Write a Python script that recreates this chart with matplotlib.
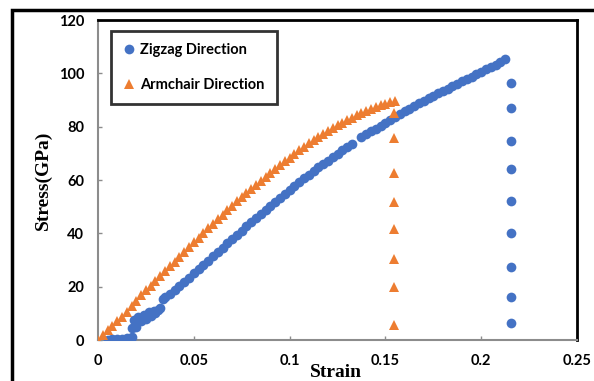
import matplotlib.pyplot as plt
from matplotlib.patches import Rectangle
from matplotlib.lines import Line2D

# --- data ---
zig_strain = [0.005, 0.0075, 0.01, 0.0125, 0.015, 0.0175, 0.018, 0.019, 0.02, 0.021,
              0.0225, 0.024, 0.025, 0.0265, 0.0275, 0.029, 0.03, 0.0315, 0.0325, 0.034,
              0.035, 0.0375, 0.04, 0.0425, 0.045, 0.0475, 0.05, 0.0525, 0.055, 0.0575,
              0.06, 0.0625, 0.065, 0.0675, 0.07, 0.0725, 0.075, 0.0775, 0.08, 0.0825,
              0.085, 0.0875, 0.09, 0.0925, 0.095, 0.0975, 0.1, 0.1025, 0.105, 0.1075,
              0.11, 0.1125, 0.115, 0.1175, 0.12, 0.1225, 0.125, 0.1275, 0.13, 0.1325,
              0.1375, 0.14, 0.1425, 0.145, 0.1475, 0.15, 0.1525, 0.155, 0.1575, 0.16,
              0.1625, 0.165, 0.1675, 0.17, 0.1725, 0.175, 0.1775, 0.18, 0.1825, 0.185,
              0.1875, 0.19, 0.1925, 0.195, 0.1975, 0.2, 0.2025, 0.205, 0.2075, 0.21,
              0.2125]
zig_stress = [0.0, 0.2, 0.3, 0.5, 0.8, 1.2, 4.5, 7.5, 5.0, 8.5,
              7.0, 9.5, 8.0, 10.5, 9.0, 11.0, 10.0, 11.2, 12.0, 15.5,
              16.3, 17.2, 18.6, 20.2, 21.8, 23.4, 25.0, 26.6, 28.2, 29.8,
              31.4, 33.0, 34.6, 36.2, 37.8, 39.4, 41.0, 42.6, 44.2, 45.8,
              47.4, 48.9, 50.4, 51.9, 53.4, 54.9, 56.4, 57.8, 59.2, 60.6,
              62.0, 63.4, 64.7, 66.0, 67.3, 68.6, 69.9, 71.2, 72.4, 73.6,
              76.0, 77.1, 78.2, 79.3, 80.4, 81.5, 82.6, 83.6, 84.6, 85.7,
              86.7, 87.7, 88.7, 89.7, 90.6, 91.6, 92.5, 93.4, 94.3, 95.2,
              96.1, 97.0, 97.9, 98.7, 99.6, 100.6, 101.5, 102.4, 103.3, 104.2,
              105.2]
zig_fail_strain = [0.2154] * 9
zig_fail_stress = [96.3, 87.1, 74.7, 64.0, 52.2, 40.2, 27.5, 16.2, 6.3]

arm_strain = [0.0, 0.0025, 0.005, 0.0075, 0.01, 0.0125, 0.015, 0.0175, 0.02, 0.0225,
              0.025, 0.0275, 0.03, 0.0325, 0.035, 0.0375, 0.04, 0.0425, 0.045, 0.0475,
              0.05, 0.0525, 0.055, 0.0575, 0.06, 0.0625, 0.065, 0.0675, 0.07, 0.0725,
              0.075, 0.0775, 0.08, 0.0825, 0.085, 0.0875, 0.09, 0.0925, 0.095, 0.0975,
              0.1, 0.1025, 0.105, 0.1075, 0.11, 0.1125, 0.115, 0.1175, 0.12, 0.1225,
              0.125, 0.1275, 0.13, 0.1325, 0.135, 0.1375, 0.14, 0.1425, 0.145, 0.1475,
              0.15, 0.1525, 0.155]
arm_stress = [0.0, 1.8, 3.6, 5.2, 7.0, 8.8, 10.6, 12.6, 14.8, 16.8,
              18.6, 20.4, 22.2, 24.0, 25.8, 27.6, 29.4, 31.2, 33.0, 34.8,
              36.6, 38.4, 40.1, 41.9, 43.6, 45.3, 47.0, 48.7, 50.4, 52.0,
              53.6, 55.2, 56.8, 58.3, 59.8, 61.3, 62.8, 64.2, 65.6, 67.0,
              68.4, 69.8, 71.1, 72.4, 73.7, 74.9, 76.1, 77.3, 78.4, 79.5,
              80.5, 81.5, 82.5, 83.4, 84.3, 85.1, 85.9, 86.6, 87.3, 88.0,
              88.6, 89.2, 89.7]
arm_fail_strain = [0.1547] * 8
arm_fail_stress = [85.0, 75.6, 62.5, 51.6, 41.5, 30.5, 19.7, 5.7]

x_ticks = [0, 0.05, 0.1, 0.15, 0.2, 0.25]
x_labels = ['0', '0.05', '0.1', '0.15', '0.2', '0.25']
y_ticks = [0, 20, 40, 60, 80, 100, 120]

BLUE = '#4472C4'
ORANGE = '#ED7D31'
GREY = '#8c8c8c'

fig = plt.figure(figsize=(5.94, 3.81), dpi=100)
ax = fig.add_axes([98 / 594, 1 - 340 / 381, 479 / 594, 320 / 381])

ax.plot(zig_strain + zig_fail_strain, zig_stress + zig_fail_stress, 'o',
        color=BLUE, ms=7, mew=0, zorder=3)
ax.plot(arm_strain + arm_fail_strain, arm_stress + arm_fail_stress, '^',
        color=ORANGE, ms=7.5, mew=0, zorder=4)

ax.set_xlim(0, 0.25)
ax.set_ylim(0, 120)
ax.set_xticks(x_ticks)
ax.set_xticklabels(x_labels)
ax.set_yticks(y_ticks)
ax.tick_params(direction='in', length=3, width=1, color=GREY, pad=10)
for lab in ax.get_xticklabels() + ax.get_yticklabels():
    lab.set_fontfamily('Lato')
    lab.set_fontweight('bold')
    lab.set_fontsize(10.5)

for side in ('left', 'bottom'):
    ax.spines[side].set_color(GREY)
    ax.spines[side].set_linewidth(1.5)
for side in ('top', 'right'):
    ax.spines[side].set_color('black')
    ax.spines[side].set_linewidth(2)

fig.text(336 / 594, 4 / 381, 'Strain', family='Liberation Serif', weight='bold',
         fontsize=14, ha='center', va='baseline')
fig.text(43 / 594, 1 - 180 / 381, 'Stress(GPa)', family='Liberation Serif',
         weight='bold', fontsize=14, ha='center', va='center', rotation=90)

handles = [Line2D([], [], ls='none', marker='o', color=BLUE, ms=7, mew=0),
           Line2D([], [], ls='none', marker='^', color=ORANGE, ms=7.5, mew=0)]
leg = ax.legend(handles, ['Zigzag Direction', 'Armchair Direction'],
                loc='upper left', bbox_to_anchor=(0.027, 0.966), borderaxespad=0,
                prop={'family': 'Lato', 'weight': 'bold', 'size': 10.5},
                frameon=True, fancybox=False, borderpad=0.85, labelspacing=1.4,
                handlelength=0.8, handletextpad=0.35)
leg.get_frame().set_edgecolor('black')
leg.get_frame().set_linewidth(2)

# outer frame of the original figure
fig.add_artist(Rectangle((12 / 594, -0.1), 1.2, 1.1 - 10 / 381,
                         transform=fig.transFigure, fill=False,
                         edgecolor='black', linewidth=2.5, zorder=10))

fig.savefig('out.png', dpi=100)
